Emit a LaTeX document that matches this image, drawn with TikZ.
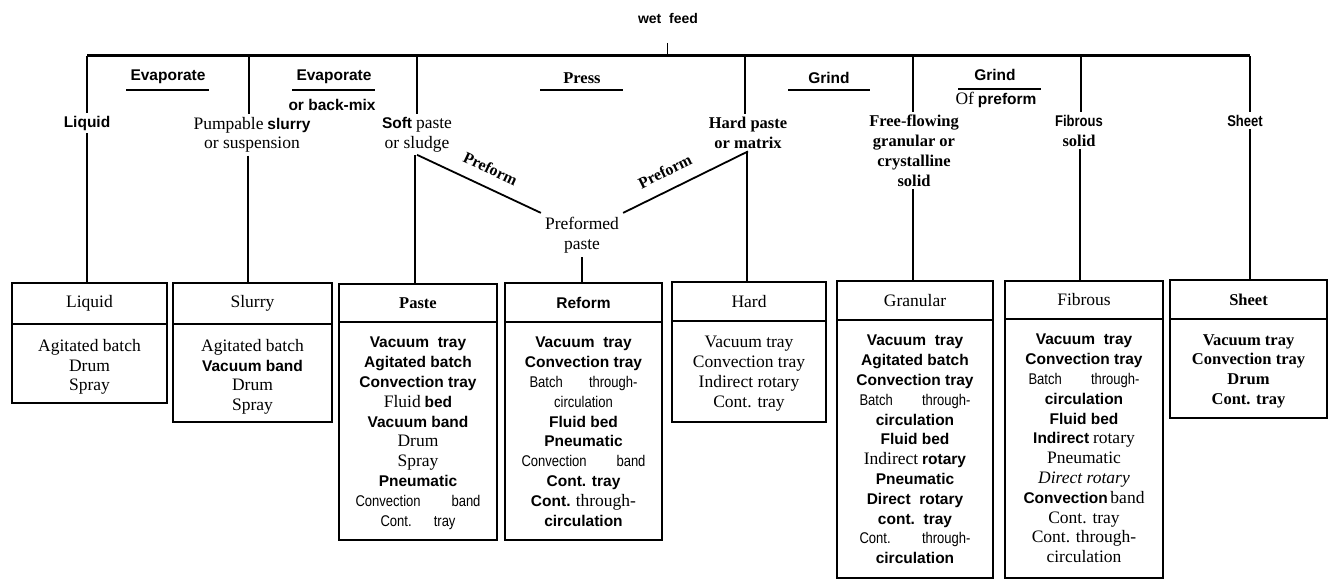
\documentclass[tikz,border=0pt]{standalone}
\usepackage{fontspec}
\setmainfont{Liberation Serif}
\newfontfamily\sansf{Liberation Sans}
\newfontfamily\narrowf[FakeStretch=0.84]{Liberation Sans}

% type faces used in the chart
\newcommand\SansB[1]{{\sansf\bfseries\fontsize{15.5}{19.8}\selectfont #1}}
\newcommand\Serif[1]{{\rmfamily\fontsize{17.5}{19.8}\selectfont #1}}
\newcommand\SerifB[1]{{\rmfamily\bfseries\fontsize{16.5}{19.8}\selectfont #1}}
\newcommand\Narrow[1]{{\narrowf\fontsize{15.5}{19.8}\selectfont #1}}
\newcommand\Spread[3]{\makebox[#1]{#2\hfill#3}}

\tikzset{
  bar/.style={line width=3pt},
  drop/.style={line width=2.6pt},
  rule/.style={line width=2.4pt},
  link/.style={line width=1.5pt},
  slant/.style={line width=1.8pt},
  feedtick/.style={line width=1pt},
  chartfont/.style={font=\fontsize{15.5}{19.8}\selectfont},
  state/.style={chartfont, inner sep=3pt, outer sep=0pt, align=center, anchor=north},
  oper/.style={chartfont, inner sep=0pt, align=center},
  slantlabel/.style={sloped, above=12pt, inner sep=0pt, font=\rmfamily\bfseries\fontsize{16}{18}\selectfont},
  headbox/.style={chartfont, draw, line width=2.1pt, inner sep=0pt, outer sep=0pt},
  bodybox/.style={draw, line width=2.1pt, inner sep=0pt, outer sep=0pt},
  listtext/.style={chartfont, inner sep=0pt, align=center, anchor=north},
}

% #1 name, #2 left, #3 right, #4 top, #5 divider, #6 bottom, #7 title, #8 dryer list
\newcommand\DryerBox[8]{%
  \node[headbox, minimum width={#3-#2}, minimum height={#5-#4}] (#1h)
    at ({(#2+#3)/2},{(#4+#5)/2}) {#7};
  \node[bodybox, minimum width={#3-#2}, minimum height={#6-#5}] (#1b)
    at ({(#2+#3)/2},{(#5+#6)/2}) {};
  \node[listtext] (#1l) at ([yshift=-15pt]#1b.north) {#8};
}

\begin{document}
\begin{tikzpicture}[x=1pt,y=-1pt]
\useasboundingbox (0,0) rectangle (1330,580);

% feed and main header bar
\node[oper] (feed) at (668,18) {\SansB{\fontsize{14}{18}\selectfont wet\ \ feed}};
\coordinate (tick) at (667,43);
\coordinate (j1) at (87,56);
\coordinate (j2) at (249,56);
\coordinate (j3) at (417,56);
\coordinate (j4) at (745,56);
\coordinate (j5) at (913,56);
\coordinate (j6) at (1081,56);
\coordinate (j7) at (1250,56);
\draw[feedtick] (tick) -- (tick |- j1);
\draw[bar] (j1) -- (j7);

% operations between the feed states
\node[oper] (evapA) at (168,77) {\SansB{Evaporate}};
\draw[rule] (126,90) -- (209,90);
\node[oper] (evapB) at (334,77) {\SansB{Evaporate}};
\draw[rule] (292,90) -- (375,90);
\node[oper] (backmix) at (332,105) {\SansB{or back-mix}};
\node[oper] (press) at (582,78) {\SerifB{Press}};
\draw[rule] (540,90) -- (623,90);
\node[oper] (grindA) at (829,78) {\SansB{Grind}};
\draw[rule] (788,90) -- (870,90);
\node[oper] (grindB) at (995,75) {\SansB{Grind}};
\draw[rule] (958,89) -- (1041,89);
\node[oper] (ofpre) at (996,100) {\Serif{Of} \SansB{preform}};

% states of the wet feed
\node[state] (liquid) at (87,113) {\SansB{Liquid}};
\node[state] (slurry) at (252,114) {\Serif{Pumpable} \SansB{slurry}\\ \Serif{or suspension}};
\node[state] (soft) at (417,114) {\SansB{Soft} \Serif{paste}\\ \Serif{or sludge}};
\node[state] (hard) at (748,114) {\SerifB{Hard paste}\\ \SerifB{or matrix}};
\node[state] (gran) at (914,112) {\SerifB{Free-flowing}\\ \SerifB{granular or}\\ \SerifB{crystalline}\\ \SerifB{solid}};
\node[state] (fib) at (1079,112) {\Narrow{\bfseries Fibrous}\\ \SerifB{solid}};
\node[state] (sheet) at (1245,112) {\Narrow{\bfseries Sheet}};
\node[oper, inner sep=4pt] (pre) at (582,235) {\Serif{Preformed}\\ \Serif{paste}};

\draw[drop] (j1) -- (j1 |- liquid.north);
\draw[drop] (j2) -- (j2 |- slurry.north);
\draw[drop] (j3) -- (j3 |- soft.north);
\draw[drop] (j4) -- (j4 |- hard.north);
\draw[drop] (j5) -- (j5 |- gran.north);
\draw[drop] (j6) -- (j6 |- fib.north);
\draw[drop] (j7) -- (j7 |- sheet.north);

% dryer groups
\DryerBox{liq}{12}{167}{283}{324}{403}{\Serif{Liquid}}
  {\Serif{Agitated batch}\\ \Serif{Drum}\\ \Serif{Spray}}
\DryerBox{slu}{173}{332}{283}{324}{422}{\Serif{Slurry}}
  {\Serif{Agitated batch}\\ \SansB{Vacuum band}\\ \Serif{Drum}\\ \Serif{Spray}}
\DryerBox{pas}{339}{497}{284}{322}{540}{\SerifB{Paste}}
  {\SansB{Vacuum\ \ tray}\\ \SansB{Agitated batch}\\ \SansB{Convection tray}\\
   \Serif{Fluid} \SansB{bed}\\ \SansB{Vacuum band}\\ \Serif{Drum}\\ \Serif{Spray}\\
   \SansB{Pneumatic}\\ \Narrow{\Spread{125pt}{Convection}{band}}\\
   \Narrow{\Spread{75pt}{Cont.}{tray}}}
\DryerBox{ref}{505}{662}{283}{322}{540}{\SansB{Reform}}
  {\SansB{Vacuum\ \ tray}\\ \SansB{Convection tray}\\ \Narrow{\Spread{108pt}{Batch}{through-}}\\
   \Narrow{circulation}\\ \SansB{Fluid bed}\\ \SansB{Pneumatic}\\
   \Narrow{\Spread{124pt}{Convection}{band}}\\ \SansB{Cont. tray}\\
   \SansB{Cont.} \Serif{through-}\\ \SansB{circulation}}
\DryerBox{har}{672}{826}{282}{321}{422}{\Serif{Hard}}
  {\Serif{Vacuum tray}\\ \Serif{Convection tray}\\ \Serif{Indirect rotary}\\ \Serif{Cont. tray}}
\DryerBox{gra}{837}{993}{281}{320}{578}{\Serif{Granular}}
  {\SansB{Vacuum\ \ tray}\\ \SansB{Agitated batch}\\ \SansB{Convection tray}\\
   \Narrow{\Spread{111pt}{Batch}{through-}}\\ \SansB{circulation}\\ \SansB{Fluid bed}\\
   \Serif{Indirect}\ \SansB{rotary}\\ \SansB{Pneumatic}\\ \SansB{Direct\ \ rotary}\\
   \SansB{cont.\ \ tray}\\ \Narrow{\Spread{111pt}{Cont.}{through-}}\\ \SansB{circulation}}
\DryerBox{fib}{1005}{1163}{281}{319}{578}{\Serif{Fibrous}}
  {\SansB{Vacuum\ \ tray}\\ \SansB{Convection tray}\\ \Narrow{\Spread{111pt}{Batch}{through-}}\\
   \SansB{circulation}\\ \SansB{Fluid bed}\\ \SansB{Indirect} \Serif{rotary}\\
   \Serif{Pneumatic}\\ \Serif{\itshape Direct rotary}\\ \SansB{Convection}\,\Serif{band}\\
   \Serif{Cont. tray}\\ \Serif{Cont. through-}\\ \Serif{circulation}}
\DryerBox{she}{1170}{1327}{280}{319}{418}{\SerifB{Sheet}}
  {\SerifB{Vacuum tray}\\ \SerifB{Convection tray}\\ \SerifB{Drum}\\ \SerifB{Cont. tray}}

% routes from states to dryer groups
\draw[link] (j1 |- liquid.south) -- (j1 |- liqh.north);
\draw[link] (248,0 |- slurry.south) -- (248,0 |- sluh.north);
\draw[link] (415,0 |- soft.south) -- (415,0 |- pash.north);
\draw[link] (pre.south) -- (pre.south |- refh.north);
\draw[link] (747,0 |- hard.south) -- (747,0 |- harh.north);
\draw[link] (j5 |- gran.south) -- (j5 |- grah.north);
\draw[link] (1080,0 |- fib.south) -- (1080,0 |- fibh.north);
\draw[link] (j7 |- sheet.south) -- (j7 |- sheh.north);

% preforming of pastes
\draw[slant] (soft.south) -- node[slantlabel, pos=0.53] {Preform} (pre.north west);
\draw[slant] (pre.north east) -- node[slantlabel, pos=0.4] {Preform} (hard.south);
\end{tikzpicture}
\end{document}
